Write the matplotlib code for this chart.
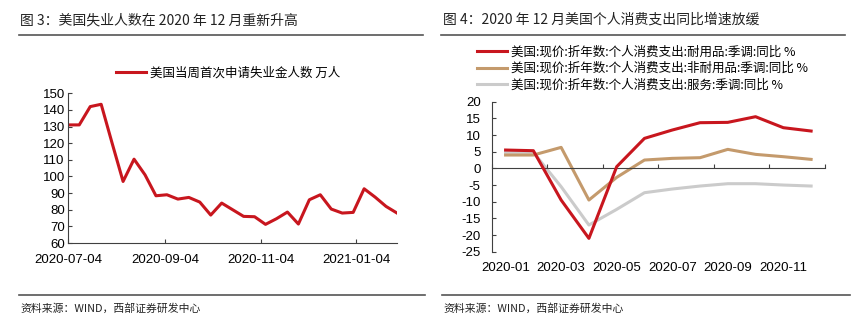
import matplotlib
matplotlib.use("Agg")
import matplotlib.pyplot as plt
import matplotlib.dates as mdates
from matplotlib.lines import Line2D
import numpy as np
import datetime as dt

plt.rcParams['font.family'] = ['Liberation Sans', 'Noto Sans CJK SC']
plt.rcParams['axes.unicode_minus'] = False

# 图3: weekly initial jobless claims (万人)
claims_start = dt.date(2020, 7, 4)
claims = [131, 131, 142, 143.4, 120, 97, 110.4, 101, 88.4, 89, 86.4, 87.4,
          84.6, 76.8, 84, 80, 76, 75.8, 71.2, 74.6, 78.6, 71.4, 86, 89,
          80.4, 78, 78.4, 92.6, 87.6, 82, 78]
claims_dates = [claims_start + dt.timedelta(weeks=i) for i in range(len(claims))]
claims_ticks = [dt.date(2020, 7, 4), dt.date(2020, 9, 4), dt.date(2020, 11, 4), dt.date(2021, 1, 4)]

# 图4: monthly PCE yoy
months = ['2020-01', '2020-02', '2020-03', '2020-04', '2020-05', '2020-06',
          '2020-07', '2020-08', '2020-09', '2020-10', '2020-11', '2020-12']
durable = [5.5, 5.3, -9.5, -21, 0.5, 9, 11.5, 13.7, 13.8, 15.5, 12.2, 11.2]
nondurable = [4, 4, 6.3, -9.5, -2.7, 2.5, 3, 3.2, 5.7, 4.2, 3.5, 2.7]
services = [4.8, 4.8, -5.5, -17, -12.3, -7.3, -6.2, -5.3, -4.6, -4.6, -5, -5.3]

red = '#C8161E'
tan = '#C49A6C'
gray = '#CBCBCB'
axc = '#404040'
cjk = ['Noto Sans CJK SC', 'Liberation Sans']

fig = plt.figure(figsize=(8.65, 3.34), dpi=100)

# titles & rules
fig.text(20 / 865, 1 - 20 / 334, '图 3：美国失业人数在 2020 年 12 月重新升高', fontsize=10,
         family=cjk, va='center', ha='left', color='#222222')
fig.text(443 / 865, 1 - 20 / 334, '图 4：2020 年 12 月美国个人消费支出同比增速放缓', fontsize=10,
         family=cjk, va='center', ha='left', color='#222222')
for x0, x1, y in [(19, 423, 35), (441, 845, 35), (19, 425, 295), (442, 850, 295)]:
    fig.add_artist(Line2D([x0 / 865, x1 / 865], [1 - y / 334, 1 - y / 334],
                          color='#555555', lw=1.2, transform=fig.transFigure))
for x0 in (20, 443):
    fig.text(x0 / 865, 1 - 308 / 334, '资料来源：WIND，西部证券研发中心', fontsize=7.8,
             family=cjk, va='center', ha='left', color='#222222')

# left chart
ax1 = fig.add_axes([68.3 / 865, 1 - 243 / 334, (397 - 68.3) / 865, (243 - 93.3) / 334])
ax1.plot(claims_dates, claims, color=red, lw=2.2, label='美国当周首次申请失业金人数 万人')
ax1.set_xlim(claims_dates[0], claims_dates[-1])
ax1.set_ylim(60, 150)
ax1.set_yticks(np.arange(60, 151, 10))
ax1.set_xticks(claims_ticks)
ax1.xaxis.set_major_formatter(mdates.DateFormatter('%Y-%m-%d'))
for s in ('top', 'right'):
    ax1.spines[s].set_visible(False)
for s in ('left', 'bottom'):
    ax1.spines[s].set_color(axc)
ax1.tick_params(direction='in', length=3, color=axc, labelsize=9.5)
ax1.tick_params(axis='x', pad=8)
ax1.tick_params(axis='y', pad=2.5)
ax1.legend(loc='center left', bbox_to_anchor=(116 / 865, 1 - 73 / 334), bbox_transform=fig.transFigure,
           frameon=False, prop={'family': cjk, 'size': 9}, handlelength=2.4,
           handletextpad=0.3, borderpad=0, borderaxespad=0)

# right chart
ax2 = fig.add_axes([491.7 / 865, 1 - 251.7 / 334, (825 - 491.7) / 865, (251.7 - 101.7) / 334])
xs = np.arange(len(months))
ax2.plot(xs, durable, color=red, lw=2.2, label='美国:现价:折年数:个人消费支出:耐用品:季调:同比 %', zorder=3)
ax2.plot(xs, nondurable, color=tan, lw=2.2, label='美国:现价:折年数:个人消费支出:非耐用品:季调:同比 %', zorder=2)
ax2.plot(xs, services, color=gray, lw=2.2, label='美国:现价:折年数:个人消费支出:服务:季调:同比 %', zorder=1)
ax2.set_xlim(-0.5, len(months) - 0.5)
ax2.set_ylim(-25, 20)
ax2.set_yticks(np.arange(-25, 21, 5))
ax2.set_xticks(np.arange(-0.5, len(months), 2))
ax2.set_xticklabels([])
ax2.spines['bottom'].set_position(('data', 0))
for s in ('top', 'right'):
    ax2.spines[s].set_visible(False)
for s in ('left', 'bottom'):
    ax2.spines[s].set_color(axc)
ax2.tick_params(direction='in', length=3, color=axc, labelsize=9.5)
ax2.tick_params(axis='y', pad=8)
for i in range(0, len(months), 2):
    ax2.text(i, -0.07, months[i], transform=ax2.get_xaxis_transform(),
             ha='center', va='top', fontsize=9.5)
ax2.legend(loc='center left', bbox_to_anchor=(477 / 865, 1 - 68.5 / 334), bbox_transform=fig.transFigure,
           frameon=False, prop={'family': cjk, 'size': 9}, handlelength=2.4,
           handletextpad=0.3, borderpad=0, borderaxespad=0, labelspacing=0.28)

fig.savefig('out.png', dpi=100)
